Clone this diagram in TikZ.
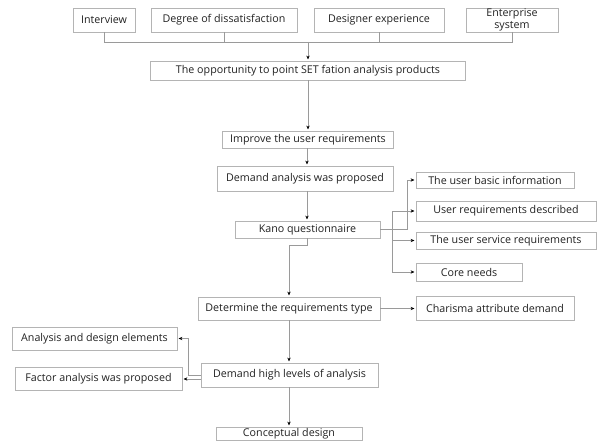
\documentclass[tikz,border=0pt]{standalone}
\usepackage{fontspec}
\setmainfont{Open Sans}
\usetikzlibrary{arrows.meta}
\definecolor{boxline}{HTML}{B4B4B4}
\definecolor{conn}{HTML}{9A9A9A}
\definecolor{txt}{HTML}{222222}
\tikzset{
  box/.style={draw=boxline, line width=0.8pt, fill=white, inner sep=0pt, text=txt,
    font=\fontsize{10.7}{11.5}\selectfont, align=center},
  link/.style={draw=conn, line width=0.7pt},
  arr/.style={link, -{Stealth[length=3.8pt,width=3.4pt,color=black]}, shorten >=1.2pt},
}
\begin{document}
\begin{tikzpicture}[x=1pt,y=-1pt]
\useasboundingbox (0,0) rectangle (597,441);
% top row
\node[box, minimum width=62pt, minimum height=24pt] (iv) at (104,20) {Interview};
\node[box, minimum width=146pt, minimum height=24pt] (dd) at (224,20) {Degree of dissatisfaction};
\node[box, minimum width=130pt, minimum height=24pt] (de) at (379,20) {Designer experience};
\node[box, minimum width=92pt, minimum height=24pt] (es) at (512,20) {Enterprise\\system};
% main column
\node[box, minimum width=315pt, minimum height=19pt] (op) at (308,70.5) {The opportunity to point SET fation analysis products};
\node[box, minimum width=171pt, minimum height=17pt] (im) at (308,139.5) {Improve the user requirements};
\node[box, minimum width=176pt, minimum height=25pt] (da) at (305,178.5) {Demand analysis was proposed};
\node[box, minimum width=145pt, minimum height=17pt] (kq) at (307.5,229.5) {Kano questionnaire};
\node[box, minimum width=182pt, minimum height=23pt] (dt) at (289,308.5) {Determine the requirements type};
\node[box, minimum width=177pt, minimum height=24pt] (dh) at (289.5,375) {Demand high levels of analysis};
\node[box, minimum width=146pt, minimum height=13pt] (cd) at (289,433.5) {Conceptual design};
% right branches
\node[box, minimum width=158pt, minimum height=16pt] (ub) at (495,180) {The user basic information};
\node[box, minimum width=180pt, minimum height=20pt] (ur) at (506,211) {User requirements described};
\node[box, minimum width=180pt, minimum height=17pt] (us) at (506,240.5) {The user service requirements};
\node[box, minimum width=106pt, minimum height=18pt] (cn) at (469,272) {Core needs};
\node[box, minimum width=158pt, minimum height=24pt] (ch) at (495,308) {Charisma attribute demand};
% left branches
\node[box, minimum width=165pt, minimum height=23pt] (ad) at (94.5,338.5) {Analysis and design elements};
\node[box, minimum width=167pt, minimum height=23pt] (fa) at (98.5,378.5) {Factor analysis was proposed};
% connectors
\coordinate (bus) at (308,42);
\draw[link] (iv.south) -- (iv.south |- bus) -- (es.south |- bus) -- (es.south);
\draw[link] (dd.south) -- (dd.south |- bus);
\draw[link] (de.south) -- (de.south |- bus);
\draw[arr] (bus) -- (bus |- op.north);
\draw[arr] (op.south) -- (im.north);
\draw[arr] (im.south -| 307,0) -- (da.north -| 307,0);
\draw[arr] (da.south -| 307,0) -- (kq.north -| 307,0);
\draw[arr] (kq.south) -- ++(0,7) -| (dt.north);
\draw[arr] (kq.east) -- ++(27,0) |- (ub.west);
\coordinate (tr) at (392,229.5);
\draw[arr] (tr) |- (ur.west);
\draw[arr] (tr) |- (us.west);
\draw[arr] (tr) |- (cn.west);
\draw[arr] (dt.east) -- (ch.west |- dt.east);
\draw[arr] (dt.south) -- (dt.south |- dh.north);
\draw[arr] (dh.south -| dt.south) -- (cd.north);
\draw[arr] (dh.west) -- ++(-12,0) |- (ad.east);
\draw[arr] ([yshift=-4pt]dh.west) -- ([yshift=-4pt]dh.west -| fa.east);
\end{tikzpicture}
\end{document}
